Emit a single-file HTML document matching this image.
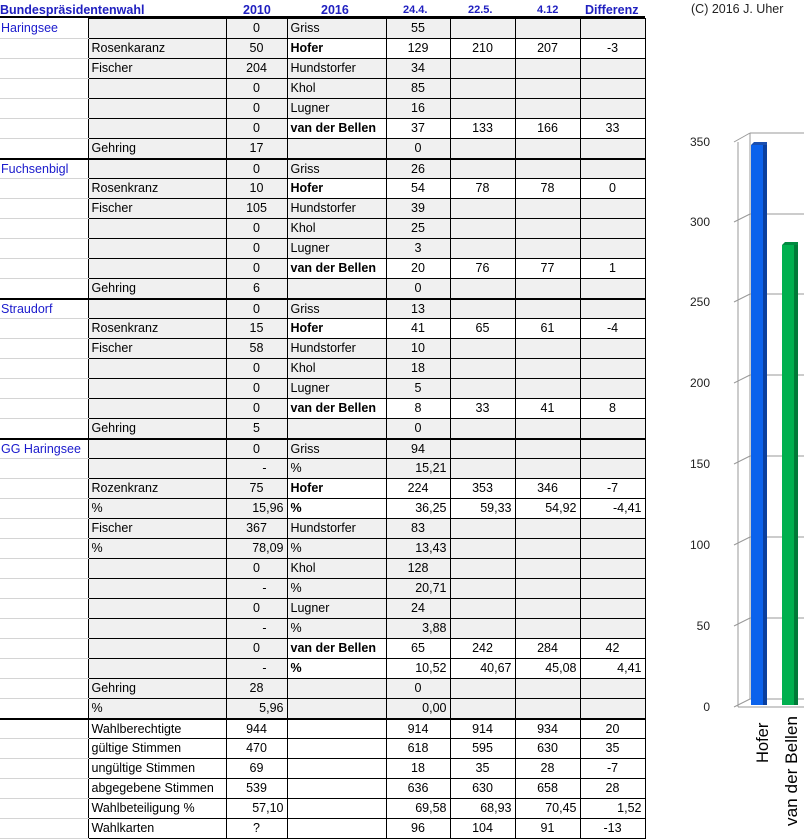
<!DOCTYPE html>
<html><head><meta charset="utf-8"><style>
body{margin:0;width:804px;height:839px;overflow:hidden;background:#fff;font-family:"Liberation Sans",Arial,sans-serif;font-size:12.5px;color:#000;position:relative}
table{position:absolute;left:0;top:18px;border-collapse:collapse;table-layout:fixed}
td{height:19px;padding:0 3px;white-space:nowrap;overflow:hidden;border:1px solid #000;background:#f0f0f0;line-height:19px}
td.a{border:none;border-bottom:1px solid #d4d4d4;background:#fff;color:#1a1acc;padding-left:1px}
td.c{text-align:center}
td.r{text-align:right}
tr.w td.x{background:#fff}
tr.s td{background:#fff}
tr.t td{border-top:2px solid #000;height:18px;line-height:18px}
tr.t td.a{border-top:2px solid #000}
.b{font-weight:bold}
.h{position:absolute;top:3px;font-weight:bold;color:#2020c0;font-size:12.5px}
</style></head><body>
<div class="h" style="left:0">Bundespräsidentenwahl</div>
<div class="h" style="left:243px">2010</div>
<div class="h" style="left:321px">2016</div>
<div class="h" style="left:403px;font-size:11px;top:4px">24.4.</div>
<div class="h" style="left:468px;font-size:11px;top:4px">22.5.</div>
<div class="h" style="left:537px;font-size:11px;top:4px">4.12</div>
<div class="h" style="left:585px">Differenz</div>
<div style="position:absolute;left:691px;top:2px;font-size:12.5px;color:#222">(C) 2016 J. Uher</div>
<div style="position:absolute;left:0;top:16px;width:645px;height:2px;background:#000"></div>
<table>
<colgroup><col style="width:88px"><col style="width:138px"><col style="width:61px"><col style="width:99px"><col style="width:64px"><col style="width:65px"><col style="width:65px"><col style="width:65px"></colgroup>
<tr><td class="a">Haringsee</td><td></td><td class="c">0</td><td>Griss</td><td class="c">55</td><td></td><td></td><td></td></tr>
<tr class="w"><td class="a"></td><td>Rosenkaranz</td><td class="c">50</td><td class="x b">Hofer</td><td class="x c">129</td><td class="x c">210</td><td class="x c">207</td><td class="x c">-3</td></tr>
<tr><td class="a"></td><td>Fischer</td><td class="c">204</td><td>Hundstorfer</td><td class="c">34</td><td></td><td></td><td></td></tr>
<tr><td class="a"></td><td></td><td class="c">0</td><td>Khol</td><td class="c">85</td><td></td><td></td><td></td></tr>
<tr><td class="a"></td><td></td><td class="c">0</td><td>Lugner</td><td class="c">16</td><td></td><td></td><td></td></tr>
<tr class="w"><td class="a"></td><td></td><td class="c">0</td><td class="x b">van der Bellen</td><td class="x c">37</td><td class="x c">133</td><td class="x c">166</td><td class="x c">33</td></tr>
<tr><td class="a"></td><td>Gehring</td><td class="c">17</td><td></td><td class="c">0</td><td></td><td></td><td></td></tr>
<tr class="t"><td class="a">Fuchsenbigl</td><td></td><td class="c">0</td><td>Griss</td><td class="c">26</td><td></td><td></td><td></td></tr>
<tr class="w"><td class="a"></td><td>Rosenkranz</td><td class="c">10</td><td class="x b">Hofer</td><td class="x c">54</td><td class="x c">78</td><td class="x c">78</td><td class="x c">0</td></tr>
<tr><td class="a"></td><td>Fischer</td><td class="c">105</td><td>Hundstorfer</td><td class="c">39</td><td></td><td></td><td></td></tr>
<tr><td class="a"></td><td></td><td class="c">0</td><td>Khol</td><td class="c">25</td><td></td><td></td><td></td></tr>
<tr><td class="a"></td><td></td><td class="c">0</td><td>Lugner</td><td class="c">3</td><td></td><td></td><td></td></tr>
<tr class="w"><td class="a"></td><td></td><td class="c">0</td><td class="x b">van der Bellen</td><td class="x c">20</td><td class="x c">76</td><td class="x c">77</td><td class="x c">1</td></tr>
<tr><td class="a"></td><td>Gehring</td><td class="c">6</td><td></td><td class="c">0</td><td></td><td></td><td></td></tr>
<tr class="t"><td class="a">Straudorf</td><td></td><td class="c">0</td><td>Griss</td><td class="c">13</td><td></td><td></td><td></td></tr>
<tr class="w"><td class="a"></td><td>Rosenkranz</td><td class="c">15</td><td class="x b">Hofer</td><td class="x c">41</td><td class="x c">65</td><td class="x c">61</td><td class="x c">-4</td></tr>
<tr><td class="a"></td><td>Fischer</td><td class="c">58</td><td>Hundstorfer</td><td class="c">10</td><td></td><td></td><td></td></tr>
<tr><td class="a"></td><td></td><td class="c">0</td><td>Khol</td><td class="c">18</td><td></td><td></td><td></td></tr>
<tr><td class="a"></td><td></td><td class="c">0</td><td>Lugner</td><td class="c">5</td><td></td><td></td><td></td></tr>
<tr class="w"><td class="a"></td><td></td><td class="c">0</td><td class="x b">van der Bellen</td><td class="x c">8</td><td class="x c">33</td><td class="x c">41</td><td class="x c">8</td></tr>
<tr><td class="a"></td><td>Gehring</td><td class="c">5</td><td></td><td class="c">0</td><td></td><td></td><td></td></tr>
<tr class="t"><td class="a">GG Haringsee</td><td></td><td class="c">0</td><td>Griss</td><td class="c">94</td><td></td><td></td><td></td></tr>
<tr><td class="a"></td><td></td><td class="r" style="padding-right:20px">-</td><td>%</td><td class="r">15,21</td><td></td><td></td><td></td></tr>
<tr class="w"><td class="a"></td><td>Rozenkranz</td><td class="c">75</td><td class="x b">Hofer</td><td class="x c">224</td><td class="x c">353</td><td class="x c">346</td><td class="x c">-7</td></tr>
<tr class="w"><td class="a"></td><td>%</td><td class="r">15,96</td><td class="x b">%</td><td class="x r">36,25</td><td class="x r">59,33</td><td class="x r">54,92</td><td class="x r">-4,41</td></tr>
<tr><td class="a"></td><td>Fischer</td><td class="c">367</td><td>Hundstorfer</td><td class="c">83</td><td></td><td></td><td></td></tr>
<tr><td class="a"></td><td>%</td><td class="r">78,09</td><td>%</td><td class="r">13,43</td><td></td><td></td><td></td></tr>
<tr><td class="a"></td><td></td><td class="c">0</td><td>Khol</td><td class="c">128</td><td></td><td></td><td></td></tr>
<tr><td class="a"></td><td></td><td class="r" style="padding-right:20px">-</td><td>%</td><td class="r">20,71</td><td></td><td></td><td></td></tr>
<tr><td class="a"></td><td></td><td class="c">0</td><td>Lugner</td><td class="c">24</td><td></td><td></td><td></td></tr>
<tr><td class="a"></td><td></td><td class="r" style="padding-right:20px">-</td><td>%</td><td class="r">3,88</td><td></td><td></td><td></td></tr>
<tr class="w"><td class="a"></td><td></td><td class="c">0</td><td class="x b">van der Bellen</td><td class="x c">65</td><td class="x c">242</td><td class="x c">284</td><td class="x c">42</td></tr>
<tr class="w"><td class="a"></td><td></td><td class="r" style="padding-right:20px">-</td><td class="x b">%</td><td class="x r">10,52</td><td class="x r">40,67</td><td class="x r">45,08</td><td class="x r">4,41</td></tr>
<tr><td class="a"></td><td>Gehring</td><td class="c">28</td><td></td><td class="c">0</td><td></td><td></td><td></td></tr>
<tr><td class="a"></td><td>%</td><td class="r">5,96</td><td></td><td class="r">0,00</td><td></td><td></td><td></td></tr>
<tr class="s t"><td class="a"></td><td>Wahlberechtigte</td><td class="c">944</td><td></td><td class="c">914</td><td class="c">914</td><td class="c">934</td><td class="c">20</td></tr>
<tr class="s"><td class="a"></td><td>gültige Stimmen</td><td class="c">470</td><td></td><td class="c">618</td><td class="c">595</td><td class="c">630</td><td class="c">35</td></tr>
<tr class="s"><td class="a"></td><td>ungültige Stimmen</td><td class="c">69</td><td></td><td class="c">18</td><td class="c">35</td><td class="c">28</td><td class="c">-7</td></tr>
<tr class="s"><td class="a"></td><td>abgegebene Stimmen</td><td class="c">539</td><td></td><td class="c">636</td><td class="c">630</td><td class="c">658</td><td class="c">28</td></tr>
<tr class="s"><td class="a"></td><td>Wahlbeteiligung %</td><td class="r">57,10</td><td></td><td class="r">69,58</td><td class="r">68,93</td><td class="r">70,45</td><td class="r">1,52</td></tr>
<tr class="s"><td class="a"></td><td>Wahlkarten</td><td class="c">?</td><td></td><td class="c">96</td><td class="c">104</td><td class="c">91</td><td class="c">-13</td></tr>
</table>
<svg style="position:absolute;left:0;top:0" width="804" height="839">
<g stroke="#999" stroke-width="1" fill="none">
<line x1="750" y1="133" x2="804" y2="133"/>
<line x1="750" y1="214" x2="804" y2="214"/>
<line x1="750" y1="294" x2="804" y2="294"/>
<line x1="750" y1="375" x2="804" y2="375"/>
<line x1="750" y1="456" x2="804" y2="456"/>
<line x1="750" y1="537" x2="804" y2="537"/>
<line x1="750" y1="618" x2="804" y2="618"/>
<line x1="750" y1="699" x2="804" y2="699"/>
<line x1="750" y1="133" x2="750" y2="699"/>
<line x1="738" y1="142" x2="738" y2="707"/>
<line x1="738" y1="707" x2="804" y2="707"/>
<line x1="734" y1="142" x2="750" y2="133"/><line x1="734" y1="222" x2="750" y2="214"/><line x1="734" y1="302" x2="750" y2="294"/><line x1="734" y1="383" x2="750" y2="375"/><line x1="734" y1="464" x2="750" y2="456"/><line x1="734" y1="545" x2="750" y2="537"/><line x1="734" y1="626" x2="750" y2="618"/><line x1="734" y1="707" x2="750" y2="699"/>
</g>
<g font-family="Liberation Sans, sans-serif" font-size="12" fill="#222" text-anchor="end">
<text x="710" y="146">350</text><text x="710" y="226">300</text><text x="710" y="306">250</text><text x="710" y="387">200</text><text x="710" y="468">150</text><text x="710" y="549">100</text><text x="710" y="630">50</text><text x="710" y="711">0</text>
</g>
<rect x="751" y="145" width="12" height="560" fill="#0b62ec"/>
<rect x="763" y="145" width="4" height="560" fill="#0a3f9e"/>
<polygon points="751,145 754,142 767,142 767,145" fill="#1a4fb0"/>
<rect x="782" y="245" width="12" height="460" fill="#00b04f"/>
<rect x="794" y="245" width="4" height="460" fill="#007a38"/>
<polygon points="782,245 785,242 798,242 798,245" fill="#008a40"/>
<g font-family="Liberation Sans, sans-serif" font-size="16.5" fill="#000">
<text transform="translate(768,763) rotate(-90)">Hofer</text>
<text transform="translate(797,826) rotate(-90)" textLength="110" lengthAdjust="spacingAndGlyphs">van der Bellen</text>
</g>
</svg>
</body></html>
